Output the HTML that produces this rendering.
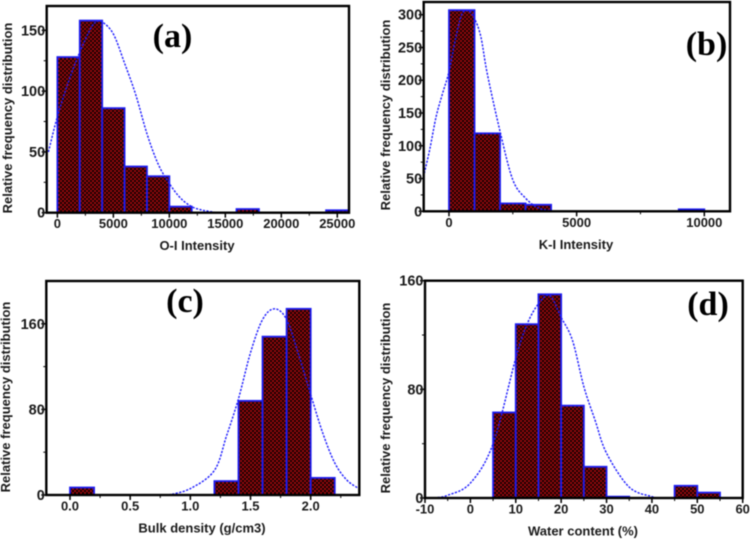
<!DOCTYPE html>
<html lang="en">
<head>
<meta charset="utf-8">
<title>Histograms of O-I, K-I, bulk density and water content</title>
<style>
html,body{margin:0;padding:0;background:#fff;width:750px;height:540px;overflow:hidden}
svg{display:block;filter:blur(0.4px)}
text{font-family:"Liberation Sans",sans-serif;font-weight:bold;fill:#1a1a1a}
.panel-label{font-family:"Liberation Serif",serif;font-size:34px;fill:#000}
</style>
</head>
<body>
<svg id="figure" xmlns="http://www.w3.org/2000/svg" width="750" height="540" viewBox="0 0 750 540">
<defs>
<pattern id="checker" width="4" height="4" patternUnits="userSpaceOnUse">
<rect width="4" height="4" fill="#100102"/>
<rect width="2" height="2" fill="#9c080c"/>
<rect x="2" y="2" width="2" height="2" fill="#9c080c"/>
</pattern>
</defs>
</svg>
<script>
// Panel (a)
const aBinStarts = [0, 2000, 4000, 6000, 8000, 10000, 16000, 24000];
const aBinWidth = 2000;
const aCounts = [128, 158, 86, 38, 30, 5, 3, 2];
const aCurveX = [-800, 0, 1000, 2000, 3000, 3500, 4000, 5000, 6000, 7000, 8000, 9000, 10000, 11000, 12000, 13000, 14000];
const aCurveY = [50, 79, 108, 132, 152, 157, 157, 147, 123, 97, 65, 40, 24, 12, 5, 2, 0.5];
const aXTicks = [0, 5000, 10000, 15000, 20000, 25000];
const aXTickLabels = ["0", "5000", "10000", "15000", "20000", "25000"];
const aXMinor = [2500, 7500, 12500, 17500, 22500];
const aYTicks = [0, 50, 100, 150];
const aYTickLabels = ["0", "50", "100", "150"];
const aYMinor = [25, 75, 125];

// Panel (b)
const bBinStarts = [0, 1000, 2000, 3000, 9000];
const bBinWidth = 1000;
const bCounts = [307, 119, 12, 10, 3];
const bCurveX = [-966, -750, -500, -250, 0, 250, 500, 750, 1000, 1250, 1500, 2000, 2500, 3000, 3500, 4000];
const bCurveY = [58, 95, 145, 180, 213, 262, 300, 306, 294, 266, 210, 122, 48, 20, 5, 1];
const bXTicks = [0, 5000, 10000];
const bXTickLabels = ["0", "5000", "10000"];
const bXMinor = [2500, 7500];
const bYTicks = [0, 50, 100, 150, 200, 250, 300];
const bYTickLabels = ["0", "50", "100", "150", "200", "250", "300"];
const bYMinor = [25, 75, 125, 175, 225, 275];

// Panel (c)
const cBinStarts = [0, 1.2, 1.4, 1.6, 1.8, 2.0];
const cBinWidth = 0.2;
const cCounts = [7, 13, 88, 148, 174, 16];
const cCurveX = [0.82, 1.0, 1.2, 1.3, 1.4, 1.5, 1.6, 1.7, 1.8, 1.9, 2.0, 2.1, 2.2, 2.3, 2.4];
const cCurveY = [0, 6, 23, 55, 90, 133, 164, 174, 164, 131, 94, 58, 30, 14, 6];
const cXTicks = [0, 0.5, 1, 1.5, 2];
const cXTickLabels = ["0.0", "0.5", "1.0", "1.5", "2.0"];
const cXMinor = [0.25, 0.75, 1.25, 1.75, 2.25];
const cYTicks = [0, 80, 160];
const cYTickLabels = ["0", "80", "160"];
const cYMinor = [40, 120];

// Panel (d)
const dBinStarts = [5, 10, 15, 20, 25, 30, 45, 50];
const dBinWidth = 5;
const dCounts = [63, 128, 150, 68, 23, 1, 9, 4];
const dCurveX = [-8, -5, 0, 5, 10, 12.5, 15, 17.5, 20, 22.5, 25, 27.5, 30, 35, 40, 41.5];
const dCurveY = [0, 2, 11, 40, 103, 128, 143, 149, 133, 116, 82, 57, 33, 8, 1, 0];
const dXTicks = [-10, 0, 10, 20, 30, 40, 50, 60];
const dXTickLabels = ["-10", "0", "10", "20", "30", "40", "50", "60"];
const dXMinor = [-5, 5, 15, 25, 35, 45, 55];
const dYTicks = [0, 80, 160];
const dYTickLabels = ["0", "80", "160"];
const dYMinor = [40, 120];

const NS = "http://www.w3.org/2000/svg";
const figure = document.getElementById("figure");

function make(parent, tag, attrs) {
  const el = document.createElementNS(NS, tag);
  for (const k in attrs) el.setAttribute(k, attrs[k]);
  parent.appendChild(el);
  return el;
}

function smoothPath(pts) {
  let d = "M" + pts[0][0].toFixed(2) + " " + pts[0][1].toFixed(2);
  for (let i = 0; i < pts.length - 1; i++) {
    const p0 = pts[Math.max(i - 1, 0)], p1 = pts[i], p2 = pts[i + 1], p3 = pts[Math.min(i + 2, pts.length - 1)];
    const c1x = p1[0] + (p2[0] - p0[0]) / 6, c1y = p1[1] + (p2[1] - p0[1]) / 6;
    const c2x = p2[0] - (p3[0] - p1[0]) / 6, c2y = p2[1] - (p3[1] - p1[1]) / 6;
    d += "C" + [c1x, c1y, c2x, c2y, p2[0], p2[1]].map(v => v.toFixed(2)).join(" ");
  }
  return d;
}

function drawPanel(o) {
  const x = v => o.left + (v - o.xMin) / (o.xMax - o.xMin) * (o.right - o.left);
  const y = v => o.bottom - (v - o.yMin) / (o.yMax - o.yMin) * (o.bottom - o.top);
  const g = make(figure, "g", {});
  
  

  o.starts.forEach((s, i) => {
    const r = make(g, "rect", {
      x: x(s), y: y(o.counts[i]),
      width: x(s + o.binWidth) - x(s), height: y(0) - y(o.counts[i]),
      fill: "url(#checker)", stroke: "#1c1cf0", "stroke-width": 1.8
    });
    
    
  });

  const curve = make(g, "path", {
    d: smoothPath(o.curveX.map((v, i) => [x(v), y(o.curveY[i])])),
    fill: "none", stroke: "#1a1aff", "stroke-width": 1.4, "stroke-dasharray": "2.2 1.4"
  });
  
  

  const frame = make(g, "rect", {
    x: o.left, y: o.top, width: o.right - o.left, height: o.bottom - o.top,
    fill: "none", stroke: "#000", "stroke-width": 2.4
  });
  
  

  o.xTicks.forEach((v, i) => {
    const t = make(g, "line", { x1: x(v), x2: x(v), y1: o.bottom, y2: o.bottom + 5, stroke: "#000", "stroke-width": 1.5 });
    
    
    const l = make(g, "text", { x: x(v), y: o.bottom + 15.5, "text-anchor": "middle", "font-size": 13 });
    l.textContent = o.xLabels[i];
    
    
  });
  o.xMinor.forEach(v => {
    if (x(v) > o.right) return;
    const t = make(g, "line", { x1: x(v), x2: x(v), y1: o.bottom, y2: o.bottom + 3, stroke: "#000", "stroke-width": 1 });
    
    
  });
  o.yTicks.forEach((v, i) => {
    const t = make(g, "line", { x1: o.left - 5, x2: o.left, y1: y(v), y2: y(v), stroke: "#000", "stroke-width": 1.5 });
    
    
    const l = make(g, "text", { x: o.left - 1.5, y: y(v) + 5, "text-anchor": "end", "font-size": 14.5 });
    l.textContent = o.yLabels[i];
    
    
  });
  o.yMinor.forEach(v => {
    const t = make(g, "line", { x1: o.left - 3, x2: o.left, y1: y(v), y2: y(v), stroke: "#000", "stroke-width": 1 });
    
    
  });

  const xt = make(g, "text", { x: o.xTitleX, y: o.bottom + 37.5, "text-anchor": "middle", "font-size": 13 });
  xt.textContent = o.xTitle;
  
  

  const yt = make(g, "text", {
    transform: "translate(" + o.yTitleX + " " + o.yTitleY + ") rotate(-90)",
    "text-anchor": "middle", "font-size": 13
  });
  yt.textContent = "Relative frequency distribution";
  
  

  const pl = make(g, "text", { x: o.labelX, y: o.labelY, "text-anchor": "middle", class: "panel-label" });
  pl.textContent = "(" + o.id + ")";
  
  
}

drawPanel({ id: "a", left: 46.7, right: 349, top: 6, bottom: 212.7,
  xMin: -954, xMax: 26046, yMin: 0, yMax: 170,
  starts: aBinStarts, binWidth: aBinWidth, counts: aCounts, curveX: aCurveX, curveY: aCurveY,
  xTicks: aXTicks, xLabels: aXTickLabels, xMinor: aXMinor, yTicks: aYTicks, yLabels: aYTickLabels, yMinor: aYMinor,
  xTitle: "O-I Intensity", xTitleX: 197, yTitleX: 12, yTitleY: 118, labelX: 172.5, labelY: 47 });

drawPanel({ id: "b", left: 423.7, right: 730, top: 2, bottom: 211.3,
  xMin: -990, xMax: 11006, yMin: 0, yMax: 319.4,
  starts: bBinStarts, binWidth: bBinWidth, counts: bCounts, curveX: bCurveX, curveY: bCurveY,
  xTicks: bXTicks, xLabels: bXTickLabels, xMinor: bXMinor, yTicks: bYTicks, yLabels: bYTickLabels, yMinor: bYMinor,
  xTitle: "K-I Intensity", xTitleX: 576, yTitleX: 390, yTitleY: 115, labelX: 706.5, labelY: 55 });

drawPanel({ id: "c", left: 46.3, right: 359.3, top: 281, bottom: 495,
  xMin: -0.197, xMax: 2.404, yMin: 0, yMax: 200,
  starts: cBinStarts, binWidth: cBinWidth, counts: cCounts, curveX: cCurveX, curveY: cCurveY,
  xTicks: cXTicks, xLabels: cXTickLabels, xMinor: cXMinor, yTicks: cYTicks, yLabels: cYTickLabels, yMinor: cYMinor,
  xTitle: "Bulk density (g/cm3)", xTitleX: 202, yTitleX: 10, yTitleY: 397, labelX: 185, labelY: 312 });

drawPanel({ id: "d", left: 425, right: 742.7, top: 280.7, bottom: 498,
  xMin: -10, xMax: 60, yMin: 0, yMax: 160,
  starts: dBinStarts, binWidth: dBinWidth, counts: dCounts, curveX: dCurveX, curveY: dCurveY,
  xTicks: dXTicks, xLabels: dXTickLabels, xMinor: dXMinor, yTicks: dYTicks, yLabels: dYTickLabels, yMinor: dYMinor,
  xTitle: "Water content (%)", xTitleX: 583, yTitleX: 390, yTitleY: 398, labelX: 708, labelY: 315 });
</script>
</body>
</html>
